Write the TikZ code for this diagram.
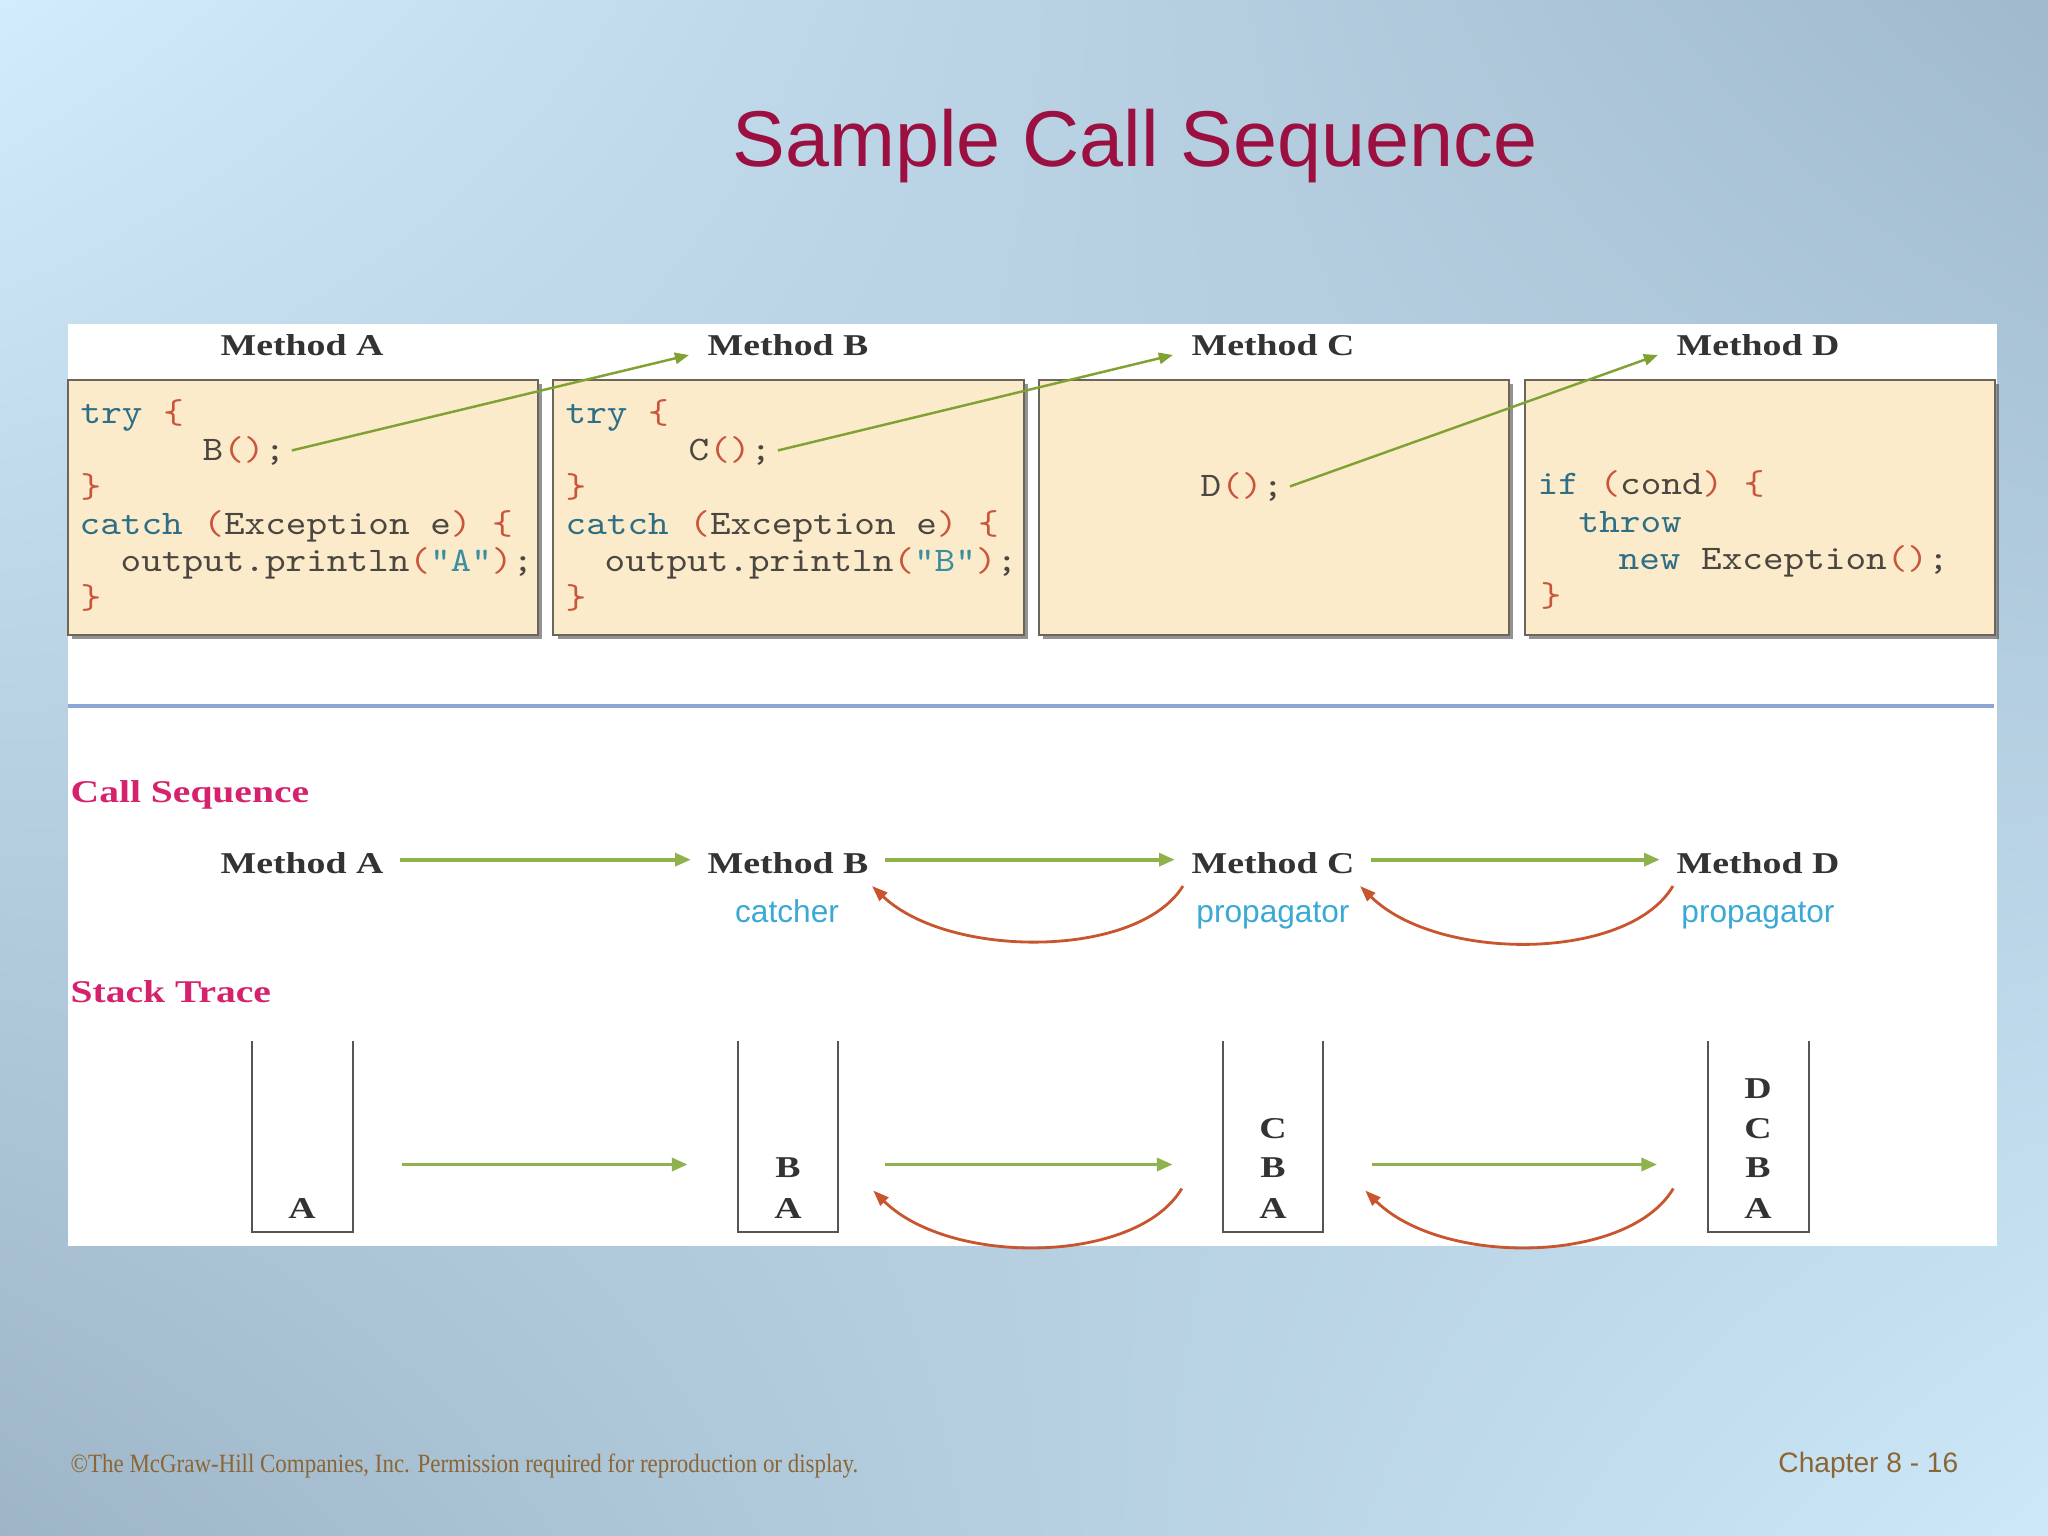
\documentclass[tikz,border=0pt]{standalone}
\usepackage{fontspec}
\setmainfont{Liberation Serif}
\setmonofont[FakeStretch=1.14]{Latin Modern Mono}
\newfontfamily\lblfont[FakeStretch=1.25]{Liberation Serif}
\newfontfamily\sansfont{Liberation Sans}
\newfontfamily\footfont[FakeStretch=0.87]{Liberation Serif}
\usetikzlibrary{arrows.meta,calc,shadows,shadings}

\definecolor{titlered}{HTML}{9B1040}
\definecolor{boxfill}{HTML}{FCEBCB}
\definecolor{boxline}{HTML}{6A665A}
\definecolor{kwc}{HTML}{2E6F86}
\definecolor{brcol}{HTML}{C8553C}
\definecolor{txc}{HTML}{4A4740}
\definecolor{strc}{HTML}{3A8EA0}
\definecolor{grn}{HTML}{80A232}
\definecolor{grnlt}{HTML}{8FB34C}
\definecolor{redarr}{HTML}{C9552E}
\definecolor{cyanlbl}{HTML}{3AAAD4}
\definecolor{pinklbl}{HTML}{D6226C}
\definecolor{footc}{HTML}{8C6534}
\definecolor{rulec}{HTML}{8CA7D3}
\definecolor{lblc}{HTML}{333333}
\definecolor{stackc}{HTML}{555555}
\definecolor{bgul}{RGB}{210,236,251}
\definecolor{bgur}{RGB}{160,185,205}
\definecolor{bgll}{RGB}{157,181,199}
\definecolor{bglr}{RGB}{205,233,249}

\newcommand{\kw}[1]{\textcolor{kwc}{#1}}
\newcommand{\bk}[1]{\textcolor{brcol}{#1}}
\newcommand{\st}[1]{\textcolor{strc}{#1}}

\tikzset{
  code/.style={anchor=base west, inner sep=0pt, text=txc,
    font=\ttfamily\fontsize{9.8pt}{11pt}\selectfont},
  hdr/.style={anchor=base, inner sep=0pt, text=lblc,
    font=\lblfont\bfseries\fontsize{8.6pt}{10pt}\selectfont},
  section/.style={anchor=base west, inner sep=0pt, text=pinklbl,
    font=\lblfont\bfseries\fontsize{9pt}{11pt}\selectfont},
  role/.style={anchor=base, inner sep=0pt, text=cyanlbl,
    font=\sansfont\fontsize{9pt}{11pt}\selectfont},
  codebox/.style={draw=boxline, fill=boxfill, line width=0.6pt,
    minimum width=4.70cm, minimum height=2.55cm, inner sep=0pt,
    drop shadow={shadow xshift=1.2pt, shadow yshift=-1.2pt, fill=black!70, opacity=0.6}},
  stackbox/.style={minimum width=0.99cm, minimum height=1.89cm, inner sep=0pt},
  stackline/.style={draw=stackc, line width=0.6pt},
  callarrow/.style={draw=grn, line width=0.7pt, -{Triangle[length=4pt,width=3.2pt]}},
  seqarrow/.style={draw=grnlt, line width=1.1pt, -{Triangle[length=4.5pt,width=3.6pt]}},
  backarrow/.style={draw=redarr, line width=0.8pt, -{Triangle[length=4.5pt,width=3.2pt]}}
}

\begin{document}
\begin{tikzpicture}[x=0.01cm, y=-0.01cm]
\useasboundingbox (0,0) rectangle (2048,1536);
% background
\shade[upper left=bgul, upper right=bgur, lower left=bgll, lower right=bglr]
  (0,0) rectangle (2048,1536);

% title
\node[anchor=base, inner sep=0pt, text=titlered,
      font=\sansfont\fontsize{22.5pt}{26pt}\selectfont] (title) at (1135,166) {Sample Call Sequence};

% white panel
\fill[white] (68,324) rectangle (1997,1246);

% headers
\node[hdr] (hdrA) at (302,355) {Method A};
\node[hdr] (hdrB) at (788,355) {Method B};
\node[hdr] (hdrC) at (1273,355) {Method C};
\node[hdr] (hdrD) at (1758,355) {Method D};

% code boxes
\node[codebox] (boxA) at (303,507.5) {};
\node[codebox] (boxB) at (788.5,507.5) {};
\node[codebox] (boxC) at (1274,507.5) {};
\node[codebox] (boxD) at (1760,507.5) {};

% box A code
\node[code] (a1) at (80,423) {\kw{try} \bk{\{}};
\node[code] (callB) at (202,460) {B\bk{()};};
\node[code] (a3) at (80,497) {\bk{\}}};
\node[code] (a4) at (79,534) {\kw{catch} \bk{(}Exception e\bk{)} \bk{\{}};
\node[code] (a5) at (120,571) {output.println\bk{(}\st{"A"}\bk{)};};
\node[code] (a6) at (80,608) {\bk{\}}};

% box B code
\node[code] (b1) at (565,423) {\kw{try} \bk{\{}};
\node[code] (callC) at (688,460) {C\bk{()};};
\node[code] (b3) at (565,497) {\bk{\}}};
\node[code] (b4) at (565,534) {\kw{catch} \bk{(}Exception e\bk{)} \bk{\{}};
\node[code] (b5) at (604,571) {output.println\bk{(}\st{"B"}\bk{)};};
\node[code] (b6) at (565,608) {\bk{\}}};

% box C code
\node[code] (callD) at (1200,496) {D\bk{()};};

% box D code
\node[code] (d1) at (1537,494) {\kw{if} \bk{(}cond\bk{)} \bk{\{}};
\node[code] (d2) at (1578,532) {\kw{throw}};
\node[code] (d3) at (1618,569) {\kw{new} Exception\bk{()};};
\node[code] (d4) at (1540,606) {\bk{\}}};

% call arrows in top part
\draw[callarrow] ($(callB.east)+(6,0)$) -- ($(hdrB.base west)+(-18,0)$);
\draw[callarrow] ($(callC.east)+(6,0)$) -- ($(hdrC.base west)+(-18,0)$);
\draw[callarrow] ($(callD.east)+(6,0)$) -- ($(hdrD.base west)+(-18,0)$);

% separating rule
\draw[rulec, line width=1.1pt] (68,706) -- (1994,706);

% call sequence
\node[section] (callseq) at (70,802) {Call Sequence};
\node[hdr] (csA) at (302,873) {Method A};
\node[hdr] (csB) at (788,873) {Method B};
\node[hdr] (csC) at (1273,873) {Method C};
\node[hdr] (csD) at (1758,873) {Method D};
\node[role] (roleB) at (787,922) {catcher};
\node[role] (roleC) at (1273,922) {propagator};
\node[role] (roleD) at (1758,922) {propagator};

\draw[seqarrow] ($(csA.east)+(16,-3)$) -- ($(csB.west)+(-16,-3)$);
\draw[seqarrow] ($(csB.east)+(16,-3)$) -- ($(csC.west)+(-16,-3)$);
\draw[seqarrow] ($(csC.east)+(16,-3)$) -- ($(csD.west)+(-16,-3)$);

\draw[backarrow] ($(csC.south west)+(-8,12)$) .. controls +(-45,73) and +(77,73) .. ($(csB.south east)+(3,12)$);
\draw[backarrow] ($(csD.south west)+(-3,12)$) .. controls +(-45,76) and +(77,76) .. ($(csC.south east)+(5,12)$);

% stack trace
\node[section] (stacktrace) at (70,1002) {Stack Trace};
\node[stackbox] (sA) at (302.5,1136.5) {};
\node[stackbox] (sB) at (788,1136.5) {};
\node[stackbox] (sC) at (1273,1136.5) {};
\node[stackbox] (sD) at (1758.5,1136.5) {};
\foreach \s in {sA,sB,sC,sD}{
  \draw[stackline] (\s.north west) |- (\s.south east) -- (\s.north east);
}
\node[hdr] (sA1) at (302,1218) {A};
\node[hdr] (sB1) at (788,1218) {A};
\node[hdr] (sB2) at (788,1177) {B};
\node[hdr] (sC1) at (1273,1218) {A};
\node[hdr] (sC2) at (1273,1177) {B};
\node[hdr] (sC3) at (1273,1138) {C};
\node[hdr] (sD1) at (1758,1218) {A};
\node[hdr] (sD2) at (1758,1177) {B};
\node[hdr] (sD3) at (1758,1138) {C};
\node[hdr] (sD4) at (1758,1098) {D};

\draw[seqarrow] ($(sA.east)+(49,28)$) -- ($(sB.west)+(-50,28)$);
\draw[seqarrow] ($(sB.east)+(47,28)$) -- ($(sC.west)+(-50,28)$);
\draw[seqarrow] ($(sC.east)+(49,28)$) -- ($(sD.west)+(-51,28)$);

\draw[backarrow] ($(sC.west)+(-41,52)$) .. controls +(-45,76) and +(77,76) .. ($(sB.east)+(35,54)$);
\draw[backarrow] ($(sD.west)+(-35,52)$) .. controls +(-45,76) and +(77,76) .. ($(sC.east)+(42,54)$);

% footer
\node[anchor=base west, inner sep=0pt, text=footc,
      font=\footfont\fontsize{7.5pt}{9pt}\selectfont] (copy) at (70,1472)
  {\textcopyright The McGraw-Hill Companies, Inc. Permission required for reproduction or display.};
\node[anchor=base east, inner sep=0pt, text=footc,
      font=\sansfont\fontsize{8pt}{10pt}\selectfont] (chap) at (1959,1472) {Chapter 8 - 16};
\end{tikzpicture}
\end{document}
